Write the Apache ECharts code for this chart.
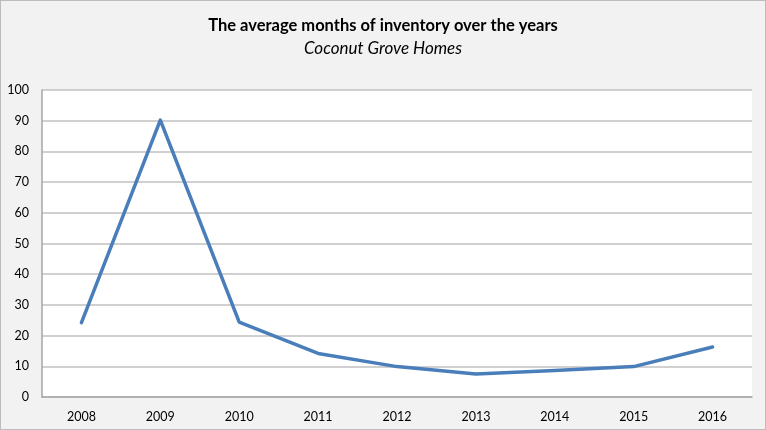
<!DOCTYPE html>
<html>
<head>
<meta charset="utf-8">
<script src="https://cdn.jsdelivr.net/npm/echarts@6/dist/echarts.min.js"></script>
<style>
  html, body { margin: 0; padding: 0; background: #ffffff; }
  .chart {
    width: 766px;
    height: 430px;
    box-sizing: border-box;
    border: 1px solid #bcbcbc;
    background: #f2f2f2;
  }
</style>
</head>
<body>
<div class="chart" id="main"></div>
<script>
// 数据
const years = ['2008', '2009', '2010', '2011', '2012', '2013', '2014', '2015', '2016']
const monthsInventory = [24.2, 90.2, 24.4, 14.2, 9.9, 7.5, 8.6, 9.9, 16.3]

const chart = echarts.init(document.getElementById('main'))
const option = {
  textStyle: { fontFamily: 'Lato' },
  title: {
    text: 'The average months of inventory over the years',
    subtext: 'Coconut Grove Homes',
    left: 'center',
    top: 11,
    itemGap: 5,
    textStyle: {
      fontFamily: 'Lato',
      fontSize: 16.5,
      fontWeight: 'bold',
      color: '#000000',
      lineHeight: 18
    },
    subtextStyle: {
      fontFamily: 'Lato',
      fontSize: 17,
      fontStyle: 'italic',
      color: '#000000',
      lineHeight: 18
    }
  },
  grid: {
    left: 41,
    right: 13,
    top: 89,
    bottom: 32,
    show: true,
    backgroundColor: '#ffffff',
    borderWidth: 0
  },
  xAxis: {
    type: 'category',
    data: years,
    boundaryGap: true,
    axisLine: { show: true, lineStyle: { color: '#a6a6a6', width: 1.5 } },
    axisTick: { show: false },
    axisLabel: { color: '#000000', fontSize: 12.5, margin: 13, fontFamily: 'Lato' },
    splitLine: { show: false }
  },
  yAxis: {
    type: 'value',
    min: 0,
    max: 100,
    interval: 10,
    axisLine: { show: true, lineStyle: { color: '#a6a6a6', width: 1.5 } },
    axisTick: { show: false },
    axisLabel: { color: '#000000', fontSize: 12.5, margin: 13, fontFamily: 'Lato' },
    splitLine: { show: true, lineStyle: { color: '#c0c0c0', width: 1.5 } }
  },
  series: [
    {
      type: 'line',
      data: monthsInventory,
      symbol: 'none',
      lineStyle: { color: '#4a7ebb', width: 3.5, cap: 'round', join: 'round' },
      itemStyle: { color: '#4a7ebb' }
    }
  ]
}
chart.setOption(option)
</script>
</body>
</html>
